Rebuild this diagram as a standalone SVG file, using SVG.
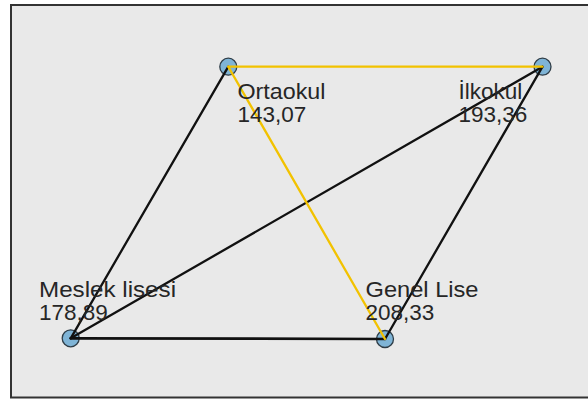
<svg xmlns="http://www.w3.org/2000/svg" width="588" height="401" viewBox="0 0 588 401">
<style>
.lbl{font-family:"Liberation Sans",Arial,sans-serif;font-size:22.5px;fill:#262626}
.blk{stroke:#111;stroke-width:2.3;fill:none;stroke-linecap:round}
.yel{stroke:#f2c200;stroke-width:2.3;fill:none;stroke-linecap:round}
.nd{fill:#7fb4d6;stroke:#2f3d47;stroke-width:1.3}
</style>
<rect x="0" y="0" width="588" height="401" fill="#ffffff"/>
<rect x="11" y="5" width="590" height="392.5" fill="#e9e9e9" stroke="#333" stroke-width="2"/>
<g id="nodes-circles">
<g id="ortaokul"><circle class="nd" cx="228.3" cy="66.7" r="8.5"/></g>
<g id="ilkokul"><circle class="nd" cx="542.5" cy="66.7" r="8.5"/></g>
<g id="meslek"><circle class="nd" cx="70.7" cy="338.3" r="8.5"/></g>
<g id="genel"><circle class="nd" cx="385" cy="339" r="8.5"/></g>
</g>
<g id="connectors">
<line class="blk" x1="228.3" y1="66.7" x2="70.7" y2="338.3"/>
<line class="blk" x1="542.5" y1="66.7" x2="70.7" y2="338.3"/>
<line class="blk" x1="542.5" y1="66.7" x2="385" y2="339"/>
<line class="blk" x1="70.7" y1="338.3" x2="385" y2="339" style="stroke-width:2.7"/>
<line class="yel" x1="228.3" y1="66.7" x2="542.5" y2="66.7"/>
<line class="yel" x1="228.3" y1="66.7" x2="385" y2="339"/>
</g>
<g id="labels">
<text class="lbl" x="237.5" y="98.5" textLength="88" lengthAdjust="spacingAndGlyphs">Ortaokul</text>
<text class="lbl" x="237.5" y="121.5">143,07</text>
<text class="lbl" x="458.5" y="98.5">İlkokul</text>
<text class="lbl" x="458.5" y="121.5">193,36</text>
<text class="lbl" x="39" y="296.5" textLength="137" lengthAdjust="spacingAndGlyphs">Meslek lisesi</text>
<text class="lbl" x="39" y="320">178,89</text>
<text class="lbl" x="365.5" y="296.5" textLength="113" lengthAdjust="spacingAndGlyphs">Genel Lise</text>
<text class="lbl" x="365.5" y="319.5">208,33</text>
</g>
</svg>
